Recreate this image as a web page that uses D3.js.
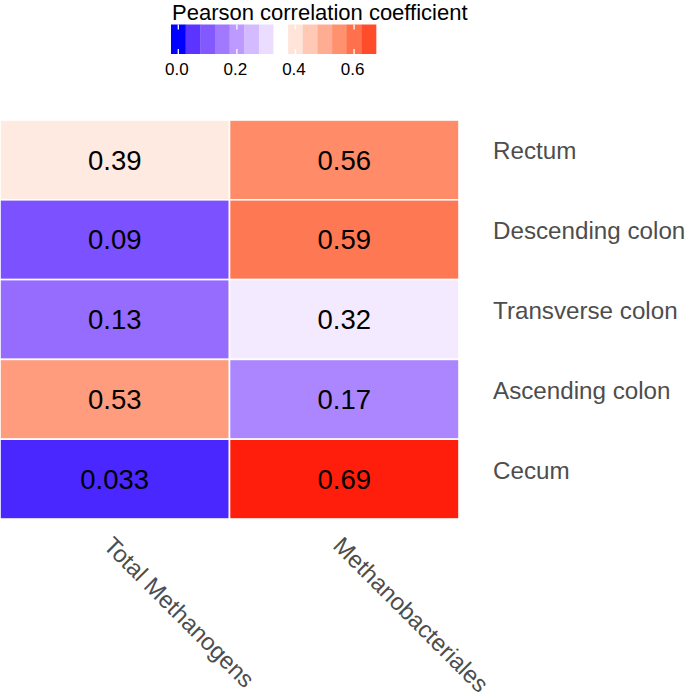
<!DOCTYPE html>
<html>
<head>
<meta charset="utf-8">
<script src="https://cdn.jsdelivr.net/npm/d3@7"></script>
<style>
  html, body { margin: 0; padding: 0; background: #fff; }
  svg { display: block; font-family: "Liberation Sans", Arial, Helvetica, sans-serif; }
</style>
</head>
<body>
<svg id="chart" width="685" height="697"></svg>
<script>
// ---- data ----
const regions = ["Rectum", "Descending colon", "Transverse colon", "Ascending colon", "Cecum"];
const groups = ["Total Methanogens", "Methanobacteriales"];
const totalMethanogens = [0.39, 0.09, 0.13, 0.53, 0.033];
const methanobacteriales = [0.56, 0.59, 0.32, 0.17, 0.69];
const legendTicks = [0.0, 0.2, 0.4, 0.6];
const legendTitle = "Pearson correlation coefficient";

const seriesByGroup = { "Total Methanogens": totalMethanogens, "Methanobacteriales": methanobacteriales };
const cells = [];
groups.forEach(g => regions.forEach((r, i) => cells.push({ group: g, region: r, value: seriesByGroup[g][i] })));

const svg = d3.select("#chart");

// ---- scales ----
const x = d3.scaleBand().domain(groups).range([0, 459]).padding(0);
const y = d3.scaleBand().domain(regions).range([120, 519]).padding(0);
const color = d3.scaleLinear()
  .domain([0, 0.35, 0.70])
  .range(["#0000ff", "#ffffff", "#ff0000"])
  .interpolate(d3.interpolateLab);

// ---- tiles ----
svg.append("g").selectAll("rect").data(cells).join("rect")
  .attr("x", d => x(d.group))
  .attr("y", d => y(d.region))
  .attr("width", x.bandwidth())
  .attr("height", y.bandwidth())
  .attr("fill", d => color(d.value))
  .attr("stroke", "#ffffff")
  .attr("stroke-width", 1.6);

svg.append("g").selectAll("text").data(cells).join("text")
  .attr("x", d => x(d.group) + x.bandwidth() / 2)
  .attr("y", d => y(d.region) + y.bandwidth() / 2 + 9.7)
  .attr("text-anchor", "middle")
  .attr("font-size", 27.5)
  .attr("fill", "#000")
  .text(d => String(d.value));

// ---- row labels (right) ----
svg.append("g").selectAll("text").data(regions).join("text")
  .attr("x", 493)
  .attr("y", d => y(d) + y.bandwidth() / 2 - 0.5)
  .attr("font-size", 24.2)
  .attr("fill", "#4d4d4d")
  .text(d => d);

// ---- column labels (rotated) ----
svg.append("g").selectAll("text").data(groups).join("text")
  .attr("transform", d => `translate(${x(d) + x.bandwidth() / 2 - 12.5},547) rotate(45)`)
  .attr("text-anchor", "start")
  .attr("font-size", 23.8)
  .attr("fill", "#4d4d4d")
  .text(d => d);

// ---- legend ----
const legendBins = d3.range(0, 0.65 + 1e-9, 0.05);
const lx = d3.scaleLinear().domain([0, 0.65]).range([178.3, 368.7]);
const binW = (lx.range()[1] - lx.range()[0]) / (legendBins.length - 1);
const barTop = 24.5, barH = 29.5;

const leg = svg.append("g");
leg.append("text")
  .attr("x", 172).attr("y", 19.5)
  .attr("font-size", 22)
  .attr("fill", "#000")
  .text(legendTitle);

leg.selectAll("rect.bin").data(legendBins).join("rect")
  .attr("class", "bin")
  .attr("x", d => lx(d) - binW / 2)
  .attr("y", barTop)
  .attr("width", binW + 0.3)
  .attr("height", barH)
  .attr("fill", d => color(d));

leg.selectAll("line.tt").data(legendTicks).join("line")
  .attr("class", "tt")
  .attr("x1", d => lx(d)).attr("x2", d => lx(d))
  .attr("y1", barTop).attr("y2", barTop + 5)
  .attr("stroke", "#fff").attr("stroke-width", 1.3);
leg.selectAll("line.tb").data(legendTicks).join("line")
  .attr("class", "tb")
  .attr("x1", d => lx(d)).attr("x2", d => lx(d))
  .attr("y1", barTop + barH - 5).attr("y2", barTop + barH)
  .attr("stroke", "#fff").attr("stroke-width", 1.3);

leg.selectAll("text.tl").data(legendTicks).join("text")
  .attr("class", "tl")
  .attr("x", d => lx(d) - 1.5)
  .attr("y", 75)
  .attr("text-anchor", "middle")
  .attr("font-size", 17)
  .attr("fill", "#000")
  .text(d => d3.format(".1f")(d));
</script>
</body>
</html>
